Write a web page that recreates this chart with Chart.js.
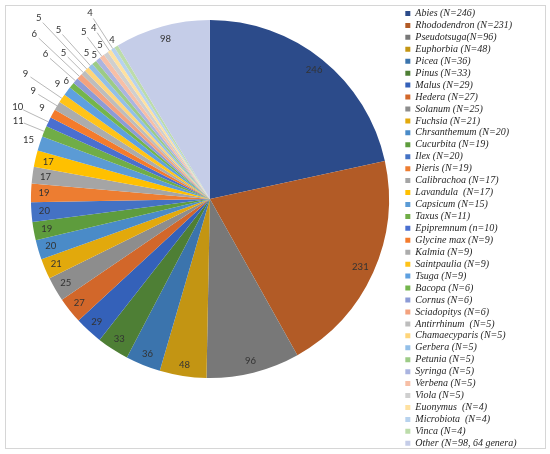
<!DOCTYPE html>
<html>
<head>
<meta charset="utf-8">
<script src="https://cdn.jsdelivr.net/npm/chart.js@4.4.1/dist/chart.umd.min.js"></script>
<style>
  html, body { margin: 0; padding: 0; background: #fff; }
  #wrap { position: relative; width: 550px; height: 454px; }
  #frame { position: absolute; left: 5px; top: 5px; width: 541px; height: 444px; border: 1px solid #d6d6d6; box-sizing: border-box; pointer-events: none; }
  canvas { position: absolute; left: 0; top: 0; }
</style>
</head>
<body>
<div id="wrap">
  <canvas id="chart" width="550" height="454"></canvas>
  <div id="frame"></div>
</div>
<script>
// legend text, as written in the figure
const generaLabels = [
  "Abies (N=246)", "Rhododendron (N=231)", "Pseudotsuga(N=96)", "Euphorbia (N=48)",
  "Picea (N=36)", "Pinus (N=33)", "Malus (N=29)", "Hedera (N=27)", "Solanum (N=25)",
  "Fuchsia (N=21)", "Chrsanthemum (N=20)", "Cucurbita (N=19)", "Ilex (N=20)",
  "Pieris (N=19)", "Calibrachoa (N=17)", "Lavandula  (N=17)", "Capsicum (N=15)",
  "Taxus (N=11)", "Epipremnum (n=10)", "Glycine max (N=9)", "Kalmia (N=9)",
  "Saintpaulia (N=9)", "Tsuga (N=9)", "Bacopa (N=6)", "Cornus (N=6)",
  "Sciadopitys (N=6)", "Antirrhinum  (N=5)", "Chamaecyparis (N=5)", "Gerbera (N=5)",
  "Petunia (N=5)", "Syringa (N=5)", "Verbena (N=5)", "Viola (N=5)",
  "Euonymus  (N=4)", "Microbiota  (N=4)", "Vinca (N=4)", "Other (N=98, 64 genera)"
];

const counts = [
  246, 231, 96, 48, 36, 33, 29, 27, 25, 21, 20, 19, 20, 19, 17, 17, 15,
  11, 10, 9, 9, 9, 9, 6, 6, 6, 5, 5, 5, 5, 5, 5, 5, 4, 4, 4, 98
];

const sliceColors = [
  "#2c4b8a", "#b25b26", "#787878", "#c39513", "#3b74ad", "#4e7f35",
  "#3461b9", "#d2672a", "#8d8d8d", "#e2a90c", "#4a8bc8", "#5e9c3d",
  "#4472c4", "#ed7d31", "#a5a5a5", "#ffc000", "#5b9bd5", "#70ad47",
  "#4a6fd0", "#f47b2c", "#acacac", "#ffc318", "#5ea0e0", "#74b54c",
  "#8c9bd6", "#f3a27e", "#bdbdbd", "#ffd57a", "#93bfe8", "#9ccb86",
  "#aab4e0", "#f7bfa6", "#cfcfcf", "#ffe1a0", "#b7d2ee", "#bcdcaa",
  "#c5cde8"
];

// distance of each value label from the rim (negative = inside the slice)
const labelGap = [
  -13, -14, -12, -11, -12, -12, -12, -12, -12, -12, -13, -13, -13, -13, -13, -13, 12,
  28, 34, 12, 28, 44, 12, 7, 40, 62, 28, 70, 48, 12, 6, 30, 10, 28, 42, 8,
  -13
];

// keep the pie above the empty strip at the bottom, as in the figure
const pieArea = {
  id: "pieArea",
  afterLayout(chart, args, opts) {
    const a = chart.chartArea;
    a.top += opts.top;
    a.bottom -= opts.bottom;
    a.height = a.bottom - a.top;
  }
};

const sliceLabels = {
  id: "sliceLabels",
  afterDatasetsDraw(chart) {
    const ctx = chart.ctx;
    const meta = chart.getDatasetMeta(0);
    ctx.save();
    ctx.font = "9.5px Lato";
    ctx.fillStyle = "#333333";
    ctx.textAlign = "center";
    ctx.textBaseline = "middle";
    meta.data.forEach((arc, i) => {
      const p = arc.getProps(["x", "y", "startAngle", "endAngle", "outerRadius"], true);
      const mid = (p.startAngle + p.endAngle) / 2;
      const r = p.outerRadius + labelGap[i];
      if (labelGap[i] > 16) {
        ctx.beginPath();
        ctx.strokeStyle = "#a6a6a6";
        ctx.lineWidth = 0.8;
        ctx.moveTo(p.x + Math.cos(mid) * p.outerRadius, p.y + Math.sin(mid) * p.outerRadius);
        ctx.lineTo(p.x + Math.cos(mid) * (r - 6), p.y + Math.sin(mid) * (r - 6));
        ctx.stroke();
      }
      ctx.fillText(String(counts[i]), p.x + Math.cos(mid) * r, p.y + Math.sin(mid) * r);
    });
    ctx.restore();
  }
};

new Chart(document.getElementById("chart").getContext("2d"), {
  type: "pie",
  data: {
    labels: generaLabels,
    datasets: [{
      data: counts,
      backgroundColor: sliceColors,
      borderWidth: 0,
      hoverOffset: 0
    }]
  },
  options: {
    responsive: false,
    animation: false,
    layout: {
      padding: { left: 16.5, top: 6.5, right: 23.5, bottom: 2 }
    },
    plugins: {
      pieArea: { top: 13.5, bottom: 74 },
      tooltip: { enabled: false },
      legend: {
        position: "right",
        align: "start",
        labels: {
          boxWidth: 5,
          boxHeight: 5,
          padding: 1.94,
          color: "#262626",
          font: { family: "Liberation Serif", size: 10, style: "italic" }
        }
      }
    }
  },
  plugins: [pieArea, sliceLabels]
});
</script>
</body>
</html>
